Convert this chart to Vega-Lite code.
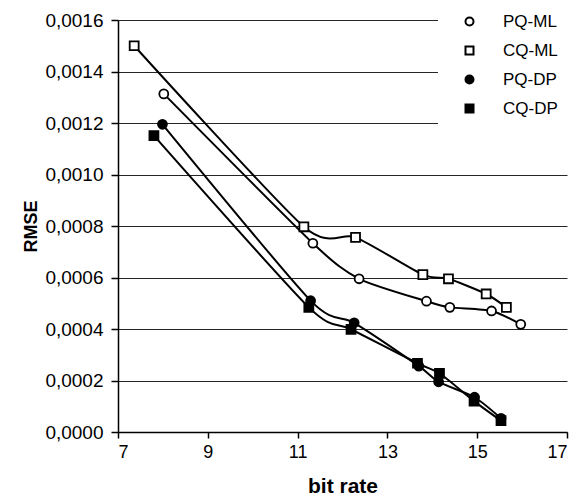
{
  "$schema": "https://vega.github.io/schema/vega-lite/v6.json",
  "width": 449,
  "height": 412,
  "autosize": "none",
  "padding": {"left": 118, "top": 20, "right": 17, "bottom": 67},
  "background": "white",
  "config": {
    "font": "Liberation Sans",
    "view": {"stroke": null}
  },
  "data": {
    "values": [
      {"series": "CQ-ML", "bitrate": 7.36, "rmse": 0.00150},
      {"series": "CQ-ML", "bitrate": 11.14, "rmse": 0.000797},
      {"series": "CQ-ML", "bitrate": 12.29, "rmse": 0.000756},
      {"series": "CQ-ML", "bitrate": 13.79, "rmse": 0.000611},
      {"series": "CQ-ML", "bitrate": 14.36, "rmse": 0.000595},
      {"series": "CQ-ML", "bitrate": 15.20, "rmse": 0.000536},
      {"series": "CQ-ML", "bitrate": 15.65, "rmse": 0.000484},
      {"series": "PQ-ML", "bitrate": 8.02, "rmse": 0.001313},
      {"series": "PQ-ML", "bitrate": 11.34, "rmse": 0.000733},
      {"series": "PQ-ML", "bitrate": 12.37, "rmse": 0.000595},
      {"series": "PQ-ML", "bitrate": 13.87, "rmse": 0.000508},
      {"series": "PQ-ML", "bitrate": 14.39, "rmse": 0.000484},
      {"series": "PQ-ML", "bitrate": 15.32, "rmse": 0.000470},
      {"series": "PQ-ML", "bitrate": 15.97, "rmse": 0.000418},
      {"series": "PQ-DP", "bitrate": 7.99, "rmse": 0.001195},
      {"series": "PQ-DP", "bitrate": 11.29, "rmse": 0.000510},
      {"series": "PQ-DP", "bitrate": 12.26, "rmse": 0.000424},
      {"series": "PQ-DP", "bitrate": 13.70, "rmse": 0.000256},
      {"series": "PQ-DP", "bitrate": 14.14, "rmse": 0.000195},
      {"series": "PQ-DP", "bitrate": 14.94, "rmse": 0.000135},
      {"series": "PQ-DP", "bitrate": 15.53, "rmse": 0.000053},
      {"series": "CQ-DP", "bitrate": 7.80, "rmse": 0.001151},
      {"series": "CQ-DP", "bitrate": 11.25, "rmse": 0.000484},
      {"series": "CQ-DP", "bitrate": 12.19, "rmse": 0.000399},
      {"series": "CQ-DP", "bitrate": 13.67, "rmse": 0.000267},
      {"series": "CQ-DP", "bitrate": 14.16, "rmse": 0.000228},
      {"series": "CQ-DP", "bitrate": 14.93, "rmse": 0.000120},
      {"series": "CQ-DP", "bitrate": 15.53, "rmse": 0.000044}
    ]
  },
  "encoding": {
    "x": {
      "field": "bitrate", "type": "quantitative",
      "scale": {"domain": [7, 17], "nice": false, "zero": false},
      "axis": {
        "title": "bit rate", "values": [7, 9, 11, 13, 15, 17],
        "grid": false, "domainColor": "black", "domainWidth": 1.5,
        "tickColor": "black", "tickSize": 6, "tickWidth": 1.5,
        "labelFont": "Liberation Sans", "labelFontSize": 18, "labelColor": "black", "labelPadding": 5,
        "titleFont": "Liberation Sans", "titleFontSize": 21, "titleFontWeight": "bold", "titleColor": "black", "titlePadding": 14
      }
    },
    "y": {
      "field": "rmse", "type": "quantitative",
      "scale": {"domain": [0, 0.0016], "nice": false},
      "axis": {
        "title": "RMSE", "values": [0, 0.0002, 0.0004, 0.0006, 0.0008, 0.001, 0.0012, 0.0014, 0.0016],
        "labelExpr": "replace(format(datum.value, '.4f'), '.', ',')",
        "grid": true, "gridColor": "black", "gridWidth": 1, "gridOpacity": 0.85,
        "domainColor": "black", "domainWidth": 1.5,
        "tickColor": "black", "tickSize": 7, "tickWidth": 1.5,
        "labelFont": "Liberation Sans", "labelFontSize": 19, "labelColor": "black", "labelPadding": 8,
        "titleFont": "Liberation Sans", "titleFontSize": 18, "titleFontWeight": "bold", "titleColor": "black", "titlePadding": 4
      }
    }
  },
  "layer": [
    {
      "mark": {"type": "line", "interpolate": "cardinal", "tension": 0.3, "color": "black", "strokeWidth": 2},
      "encoding": {"detail": {"field": "series"}}
    },
    {
      "mark": {"type": "point", "filled": false, "stroke": "black", "strokeWidth": 1.8, "size": 80, "opacity": 1},
      "encoding": {
        "shape": {
          "field": "series", "type": "nominal",
          "scale": {"domain": ["PQ-ML", "CQ-ML", "PQ-DP", "CQ-DP"], "range": ["circle", "square", "circle", "square"]}
        },
        "fill": {
          "field": "series", "type": "nominal",
          "scale": {"domain": ["PQ-ML", "CQ-ML", "PQ-DP", "CQ-DP"], "range": ["white", "white", "black", "black"]},
          "legend": {
            "title": null,
            "orient": "none",
            "legendX": 320,
            "legendY": -30,
            "padding": 23,
            "fillColor": "white",
            "symbolSize": 64,
            "symbolStrokeWidth": 2,
            "symbolStrokeColor": "black",
            "labelFont": "Liberation Sans",
            "labelFontSize": 17,
            "labelColor": "black",
            "labelOffset": 25,
            "rowPadding": 11,
            "encode": {
              "symbols": {
                "stroke": {"value": "black"},
                "strokeWidth": {"value": 2}
              }
            }
          }
        }
      }
    }
  ]
}
